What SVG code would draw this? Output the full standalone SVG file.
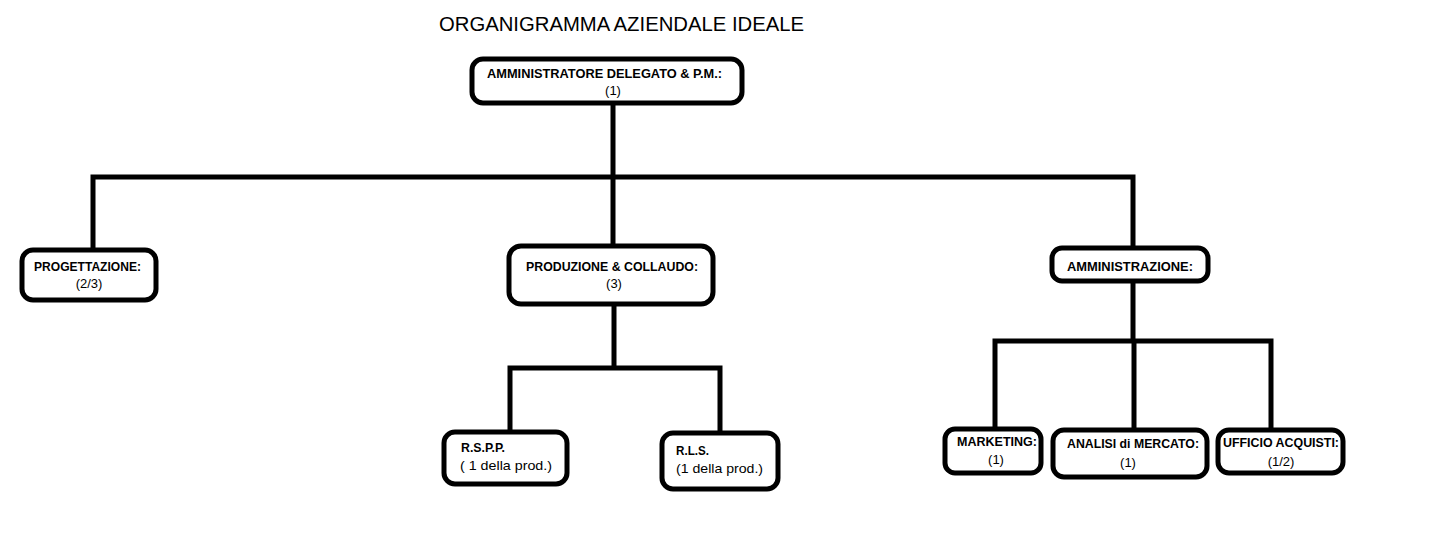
<svg xmlns="http://www.w3.org/2000/svg" width="1444" height="556" viewBox="0 0 1444 556">
<style>
.box{fill:#fff;stroke:#000;stroke-width:5;}
.ln{fill:none;stroke:#000;stroke-width:5;stroke-linecap:square;}
.b{font-family:"Liberation Sans",Arial,sans-serif;font-weight:bold;font-size:13px;fill:#000;}
.r{font-family:"Liberation Sans",Arial,sans-serif;font-size:13px;fill:#000;}
.t{font-family:"Liberation Sans",Arial,sans-serif;font-size:21px;fill:#000;}
</style>
<rect width="1444" height="556" fill="#fff"/>
<text class="t" x="439" y="31" textLength="365" lengthAdjust="spacingAndGlyphs">ORGANIGRAMMA AZIENDALE IDEALE</text>
<g id="connectors">
<path class="ln" d="M613 103V247M93 177H1133M93 177V249M1133 177V247"/>
<path class="ln" d="M614 304V368M510 368H720M510 368V432M720 368V432"/>
<path class="ln" d="M1133 281V341M995 341H1271M995 341V429M1134 341V430M1271 341V430"/>
</g>
<g id="n-ad">
<rect class="box" x="472" y="59" width="270" height="44" rx="11"/>
<text class="b" x="487" y="78" textLength="235" lengthAdjust="spacingAndGlyphs">AMMINISTRATORE DELEGATO &amp; P.M.:</text>
<text class="r" x="613" y="95" text-anchor="middle">(1)</text>
</g>
<g id="n-prog">
<rect class="box" x="22" y="250" width="134" height="50" rx="11"/>
<text class="b" x="34" y="271" textLength="107" lengthAdjust="spacingAndGlyphs">PROGETTAZIONE:</text>
<text class="r" x="89" y="288" text-anchor="middle">(2/3)</text>
</g>
<g id="n-prod">
<rect class="box" x="509" y="246" width="204" height="58" rx="12"/>
<text class="b" x="526" y="271" textLength="172" lengthAdjust="spacingAndGlyphs">PRODUZIONE &amp; COLLAUDO:</text>
<text class="r" x="614" y="288" text-anchor="middle">(3)</text>
</g>
<g id="n-amm">
<rect class="box" x="1052" y="248" width="156" height="33" rx="10"/>
<text class="b" x="1067" y="271" textLength="126" lengthAdjust="spacingAndGlyphs">AMMINISTRAZIONE:</text>
</g>
<g id="n-rspp">
<rect class="box" x="444" y="432" width="123" height="52" rx="11"/>
<text class="b" x="461" y="452" textLength="44" lengthAdjust="spacingAndGlyphs">R.S.P.P.</text>
<text class="r" x="460" y="470" textLength="92" lengthAdjust="spacingAndGlyphs">( 1 della prod.)</text>
</g>
<g id="n-rls">
<rect class="box" x="662" y="433" width="116" height="56" rx="11"/>
<text class="b" x="676" y="455" textLength="33" lengthAdjust="spacingAndGlyphs">R.L.S.</text>
<text class="r" x="676" y="473" textLength="87" lengthAdjust="spacingAndGlyphs">(1 della prod.)</text>
</g>
<g id="n-mkt">
<rect class="box" x="945" y="429" width="96" height="44" rx="10"/>
<text class="b" x="957" y="446" textLength="80" lengthAdjust="spacingAndGlyphs">MARKETING:</text>
<text class="r" x="996" y="464" text-anchor="middle">(1)</text>
</g>
<g id="n-ana">
<rect class="box" x="1053" y="430" width="154" height="47" rx="11"/>
<text class="b" x="1067" y="448" textLength="132" lengthAdjust="spacingAndGlyphs">ANALISI di MERCATO:</text>
<text class="r" x="1128" y="467" text-anchor="middle">(1)</text>
</g>
<g id="n-uff">
<rect class="box" x="1218" y="430" width="125" height="43" rx="11"/>
<text class="b" x="1223" y="447" textLength="116" lengthAdjust="spacingAndGlyphs">UFFICIO ACQUISTI:</text>
<text class="r" x="1281" y="466" text-anchor="middle">(1/2)</text>
</g>
</svg>
